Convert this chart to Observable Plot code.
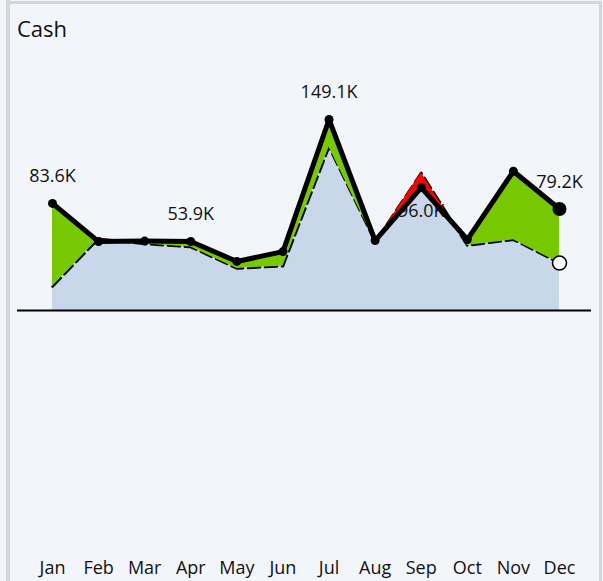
<!DOCTYPE html>
<html>
<head>
<meta charset="utf-8">
<script src="https://cdn.jsdelivr.net/npm/d3@7"></script>
<script src="https://cdn.jsdelivr.net/npm/@observablehq/plot@0.6"></script>
<style>
  html, body { margin: 0; padding: 0; background: #f2f6fa; }
  #wrap { position: relative; width: 603px; height: 581px; background: #f2f6fa; overflow: hidden; font-family: "Open Sans", sans-serif; }
  .bar { position: absolute; background: #d4d6d8; }
  #title { position: absolute; left: 17px; top: 17px; font-size: 22px; line-height: 22px; color: #111; }
  #chart { position: absolute; left: 0; top: 0; }
</style>
</head>
<body>
<div id="wrap">
  <div class="bar" style="left:6px;top:0;width:4px;height:581px"></div>
  <div class="bar" style="left:6px;top:1px;width:596px;height:3px"></div>
  <div class="bar" style="left:599px;top:1px;width:3px;height:580px"></div>
  <div id="title">Cash</div>
  <div id="chart"></div>
</div>
<script>
const months = ["Jan","Feb","Mar","Apr","May","Jun","Jul","Aug","Sep","Oct","Nov","Dec"];
const actual = [83.6, 53.8, 54.2, 53.9, 38.3, 46.0, 149.1, 54.6, 96.0, 55.4, 108.7, 79.2];
const plan   = [18.7, 56.0, 52.0, 49.5, 32.8, 34.6, 127.5, 53.5, 107.5, 50.7, 55.2, 37.0];
const labelMonths = ["Jan","Apr","Jul","Sep","Dec"];

const rows = months.map((m, i) => ({i, m, actual: actual[i], plan: plan[i]}));

// dense series with crossing points for variance fills
const dense = [];
for (let i = 0; i < rows.length; i++) {
  const r = rows[i];
  dense.push({x: r.i, a: r.actual, p: r.plan});
  if (i < rows.length - 1) {
    const n = rows[i + 1];
    const d0 = r.actual - r.plan, d1 = n.actual - n.plan;
    if (d0 * d1 < 0) {
      const t = d0 / (d0 - d1);
      const v = r.plan + t * (n.plan - r.plan);
      dense.push({x: r.i + t, a: v, p: v});
    }
  }
}

const last = rows.length - 1;
const labelled = rows.filter(d => labelMonths.includes(d.m));
const fmt = d => d.actual.toFixed(1) + "K";

const chart = Plot.plot({
  width: 603,
  height: 581,
  marginLeft: 17,
  marginRight: 12,
  marginTop: 0,
  marginBottom: 23,
  style: {background: "transparent", fontFamily: "Open Sans, sans-serif", overflow: "visible"},
  x: {type: "linear", domain: [0, last], range: [52, 559]},
  y: {type: "linear", domain: [0, 149.1], range: [310, 119], axis: null},
  marks: [
    Plot.areaY(rows, {x: "i", y1: 0, y2: "plan", fill: "#c8d7e9"}),
    Plot.text(labelled.filter(d => d.actual >= d.plan), {x: "i", y: "actual", text: fmt, dy: -27, fontSize: 18, fill: "#111"}),
    Plot.text(labelled.filter(d => d.actual < d.plan), {x: "i", y: "actual", text: fmt, dy: 24, fontSize: 18, fill: "#111"}),
    Plot.lineY(rows, {x: "i", y: "plan", stroke: "black", strokeWidth: 2.5, strokeDasharray: "12,5"}),
    Plot.areaY(dense, {x: "x", y1: "p", y2: d => Math.max(d.a, d.p), fill: "#77c800"}),
    Plot.areaY(dense, {x: "x", y1: d => Math.min(d.a, d.p), y2: "p", fill: "#ff0000"}),
    Plot.ruleY([0], {stroke: "black", strokeWidth: 2}),
    Plot.lineY(rows, {x: "i", y: "actual", stroke: "black", strokeWidth: 5, strokeLinejoin: "round"}),
    Plot.dot(rows.filter(d => d.i < last), {x: "i", y: "actual", r: 4.5, fill: "black"}),
    Plot.dot(rows.filter(d => d.i === last), {x: "i", y: "actual", r: 7, fill: "black"}),
    Plot.dot(rows.filter(d => d.i === last), {x: "i", y: "plan", r: 7, fill: "white", stroke: "black", strokeWidth: 1.5}),
    Plot.axisX({ticks: rows.map(d => d.i), tickFormat: i => months[i], tickSize: 0, tickPadding: 3, fontSize: 18, fill: "#111", label: null})
  ]
});
document.getElementById("chart").appendChild(chart);
</script>
</body>
</html>
